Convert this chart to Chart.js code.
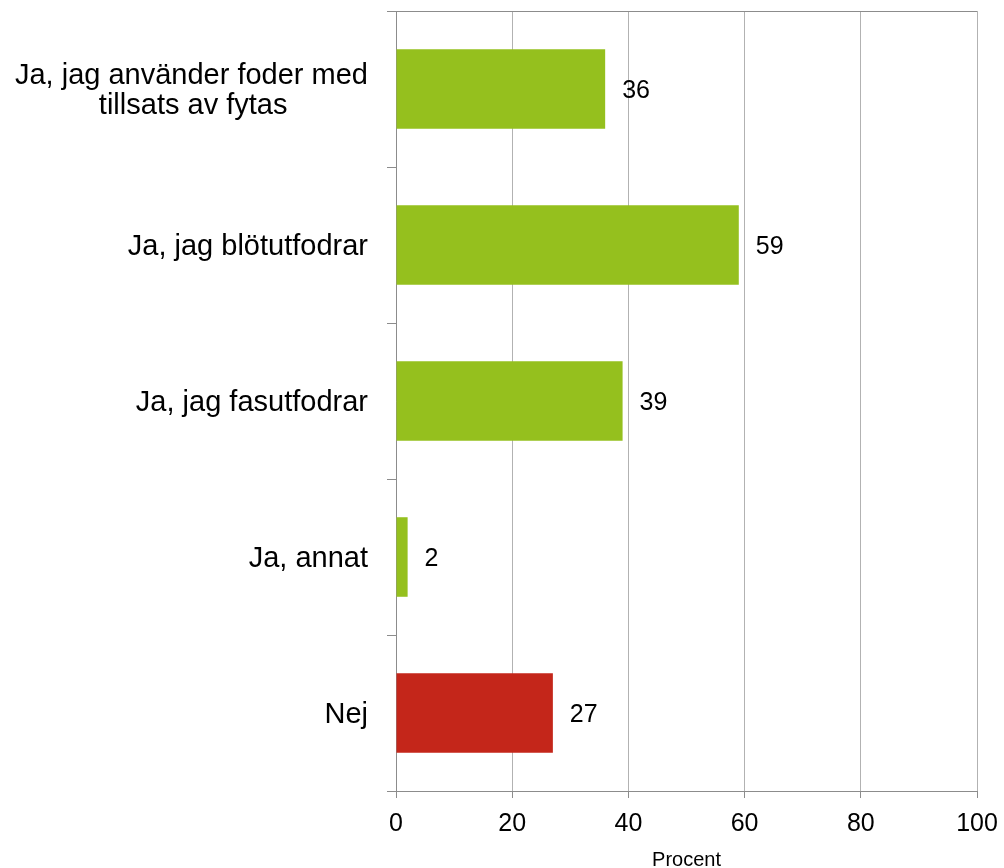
<!DOCTYPE html>
<html>
<head>
<meta charset="utf-8">
<script src="https://cdn.jsdelivr.net/npm/chart.js@4/dist/chart.umd.min.js"></script>
<style>
  html, body { margin: 0; padding: 0; background: #ffffff; }
  #wrap { width: 1004px; height: 868px; position: relative; }
</style>
</head>
<body>
<div id="wrap"><canvas id="c" width="1004" height="868"></canvas></div>
<script>
// Survey answers and their shares (percent)
const categories = [
  ['Ja, jag använder foder med', 'tillsats av fytas'],
  'Ja, jag blötutfodrar',
  'Ja, jag fasutfodrar',
  'Ja, annat',
  'Nej'
];
const values = [36, 59, 39, 2, 27];
const axisTitle = 'Procent';
const xMin = 0, xMax = 100, xStep = 20;

const GREEN = '#95c01e';
const RED = '#c4261a';
const AXIS = '#8c8c8c';
const GRID = '#b2b2b2';
const FONT = "'Liberation Sans', Arial, sans-serif";
const LABEL_SIZE = 29;

// Multi-line labels are drawn right-aligned; pad shorter lines with
// non-breaking spaces so every line sits centred under the longest one.
function centreLines(label) {
  if (!Array.isArray(label)) return label;
  const m = document.createElement('canvas').getContext('2d');
  m.font = LABEL_SIZE + 'px ' + FONT;
  const widths = label.map(s => m.measureText(s).width);
  const widest = Math.max(...widths);
  const nb = m.measureText('\u00a0').width;
  return label.map((s, i) => s + '\u00a0'.repeat(Math.round((widest - widths[i]) / 2 / nb)));
}

// Writes each bar's value just past its end
const valueLabels = {
  id: 'valueLabels',
  afterDatasetsDraw(chart) {
    const ctx = chart.ctx;
    const meta = chart.getDatasetMeta(0);
    ctx.save();
    ctx.font = '25px ' + FONT;
    ctx.fillStyle = '#000000';
    ctx.textAlign = 'left';
    ctx.textBaseline = 'middle';
    meta.data.forEach((bar, i) => {
      ctx.fillText(String(chart.data.datasets[0].data[i]), bar.x + 17, bar.y + 2);
    });
    ctx.restore();
  }
};

new Chart(document.getElementById('c'), {
  type: 'bar',
  data: {
    labels: categories.map(centreLines),
    datasets: [{
      data: values,
      backgroundColor: (c) => categories[c.index] === 'Nej' ? RED : GREEN,
      borderWidth: 0,
      categoryPercentage: 1,
      barPercentage: 0.51
    }]
  },
  options: {
    indexAxis: 'y',
    responsive: false,
    animation: false,
    devicePixelRatio: 1,
    layout: { padding: { top: 11, right: 27, left: 0, bottom: 0 } },
    plugins: {
      legend: { display: false },
      tooltip: { enabled: false }
    },
    scales: {
      x: {
        min: xMin,
        max: xMax,
        ticks: {
          stepSize: xStep,
          color: '#000000',
          font: { family: FONT, size: 25 },
          padding: 11,
          maxRotation: 0
        },
        grid: {
          color: GRID,
          lineWidth: 1,
          drawTicks: true,
          tickLength: 7,
          tickColor: AXIS
        },
        border: { display: true, color: AXIS, width: 1 },
        title: {
          display: true,
          text: axisTitle,
          color: '#000000',
          font: { family: FONT, size: 20 },
          padding: { top: 0, bottom: -4 }
        },
        afterFit(scale) {
          scale.height = 77;
          scale.paddingLeft = 0;
          scale.paddingRight = 0;
        }
      },
      y: {
        offset: true,
        ticks: {
          color: '#000000',
          font: { family: FONT, size: LABEL_SIZE, lineHeight: 1.03 },
          padding: 19,
          labelOffset: 2,
          autoSkip: false
        },
        grid: {
          offset: true,
          drawTicks: true,
          tickLength: 9,
          tickColor: AXIS,
          lineWidth: 1,
          color: (c) => c.index === 0 ? AXIS : 'rgba(0,0,0,0)'
        },
        border: { display: true, color: AXIS, width: 1 },
        afterFit(scale) {
          scale.width = 396;
          scale.paddingTop = 0;
          scale.paddingBottom = 0;
        }
      }
    }
  },
  plugins: [valueLabels]
});
</script>
</body>
</html>
